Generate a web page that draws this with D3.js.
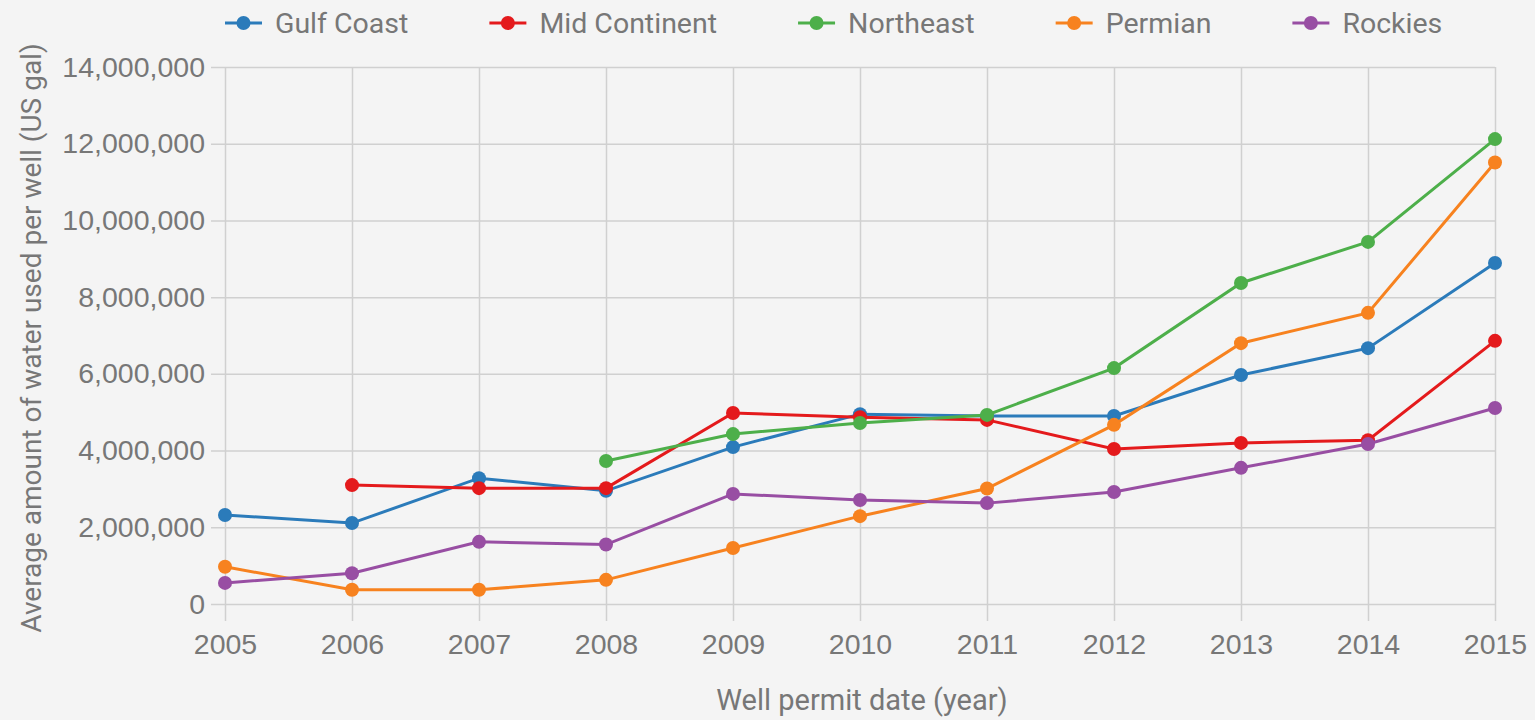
<!DOCTYPE html>
<html>
<head>
<meta charset="utf-8">
<script src="https://cdn.jsdelivr.net/npm/d3@7"></script>
<style>
  html, body { margin: 0; padding: 0; background: #f4f4f4; }
  svg { display: block; font-family: Roboto, "Liberation Sans", sans-serif; }
</style>
</head>
<body>
<svg id="chart" width="1535" height="720"></svg>
<script>
// years on the x axis
const years = [2005, 2006, 2007, 2008, 2009, 2010, 2011, 2012, 2013, 2014, 2015];

// average water per well (US gal), null where a region has no data
const gulfCoast = [2320000, 2110000, 3280000, 2950000, 4090000, 4950000, 4900000, 4900000, 5970000, 6670000, 8890000];
const midContinent = [null, 3100000, 3020000, 3020000, 4980000, 4870000, 4800000, 4040000, 4200000, 4270000, 6860000];
const northeast = [null, null, null, 3730000, 4430000, 4720000, 4930000, 6150000, 8370000, 9440000, 12120000];
const permian = [970000, 370000, 370000, 630000, 1460000, 2290000, 3010000, 4670000, 6800000, 7590000, 11510000];
const rockies = [550000, 800000, 1620000, 1550000, 2870000, 2710000, 2630000, 2920000, 3550000, 4170000, 5110000];

const seriesNames = ['Gulf Coast', 'Mid Continent', 'Northeast', 'Permian', 'Rockies'];
const seriesValues = [gulfCoast, midContinent, northeast, permian, rockies];
const colors = ['#2b7bba', '#e41a1c', '#4daf4a', '#f7821f', '#984ea3'];

const yTicks = [0, 2000000, 4000000, 6000000, 8000000, 10000000, 12000000, 14000000];

const svg = d3.select('#chart');
const margin = { top: 67, right: 40, bottom: 116, left: 225 };
const width = 1535 - margin.left - margin.right;
const height = 720 - margin.top - margin.bottom;
const textColor = '#777';
const gridColor = '#d0d0d0';
const fontSize = '28.5px';

const x = d3.scalePoint().domain(years).range([0, width]);
const y = d3.scaleLinear().domain([0, 14000000]).range([height, 0]);

const g = svg.append('g').attr('transform', `translate(${margin.left},${margin.top})`);

// y grid + labels
const yAxis = g.append('g')
  .call(d3.axisLeft(y).tickValues(yTicks).tickSize(-(width + 14)).tickFormat(d3.format(',')))
  .attr('transform', 'translate(-14,0)');
yAxis.select('.domain').remove();
yAxis.selectAll('.tick line').attr('x1', 14 + width).attr('x2', 0).attr('stroke', gridColor).attr('stroke-width', 1.5);
yAxis.selectAll('.tick text')
  .attr('x', -6)
  .attr('fill', textColor)
  .style('font-size', fontSize);

// x grid + labels
const xAxis = g.append('g')
  .call(d3.axisBottom(x).tickSize(-height - 17))
  .attr('transform', `translate(0,${height + 17})`);
xAxis.select('.domain').remove();
xAxis.selectAll('.tick line').attr('stroke', gridColor).attr('stroke-width', 1.5);
xAxis.selectAll('.tick text')
  .attr('y', 13)
  .attr('dy', '0.71em')
  .attr('fill', textColor)
  .style('font-size', fontSize);

// axis titles
svg.append('text')
  .attr('x', 862)
  .attr('y', 710)
  .attr('text-anchor', 'middle')
  .attr('fill', textColor)
  .style('font-size', '29px')
  .text('Well permit date (year)');

svg.append('text')
  .attr('transform', 'translate(41,338) rotate(-90)')
  .attr('text-anchor', 'middle')
  .attr('fill', textColor)
  .style('font-size', '28px')
  .text('Average amount of water used per well (US gal)');

// lines and points
const line = d3.line()
  .defined(d => d.v !== null)
  .x(d => x(d.year))
  .y(d => y(d.v));

seriesValues.forEach((vals, i) => {
  const pts = years.map((yr, j) => ({ year: yr, v: vals[j] }));
  g.append('path')
    .datum(pts)
    .attr('fill', 'none')
    .attr('stroke', colors[i])
    .attr('stroke-width', 3)
    .attr('d', line);
  g.selectAll(null)
    .data(pts.filter(d => d.v !== null))
    .enter()
    .append('circle')
    .attr('cx', d => x(d.year))
    .attr('cy', d => y(d.v))
    .attr('r', 7)
    .attr('fill', colors[i]);
});

// legend
const legend = svg.append('g').attr('transform', 'translate(225,23)');
let lx = 0;
seriesNames.forEach((name, i) => {
  const item = legend.append('g').attr('transform', `translate(${lx},0)`);
  item.append('line')
    .attr('x1', 0).attr('x2', 37)
    .attr('stroke', colors[i]).attr('stroke-width', 3);
  item.append('circle')
    .attr('cx', 18.5).attr('r', 7).attr('fill', colors[i]);
  const t = item.append('text')
    .attr('x', 50)
    .attr('dy', '0.35em')
    .attr('fill', textColor)
    .style('font-size', fontSize)
    .text(name);
  lx += 50 + t.node().getComputedTextLength() + 81;
});
</script>
</body>
</html>
